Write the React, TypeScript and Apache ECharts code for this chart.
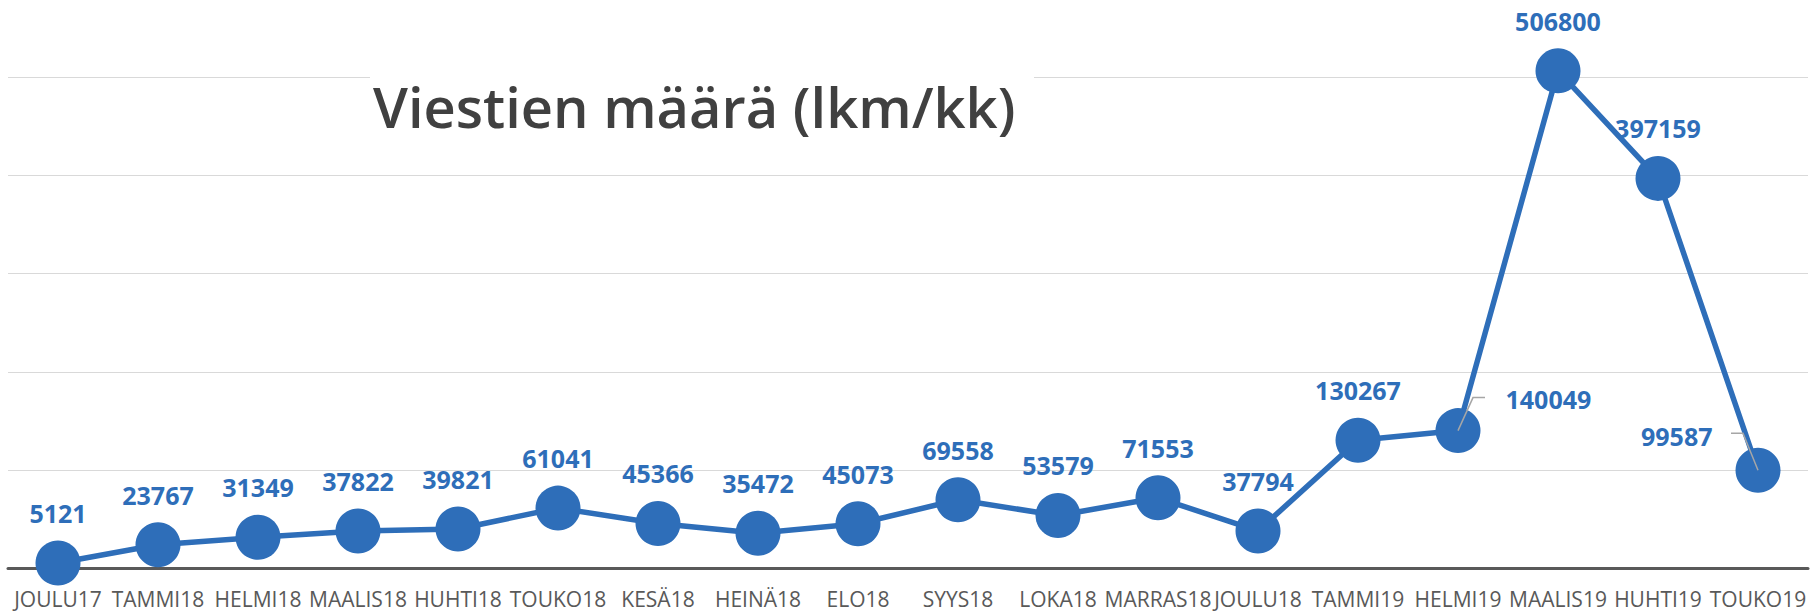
import React, { useEffect, useRef } from "react";
import * as echarts from "echarts";

const categories = [
  "JOULU17", "TAMMI18", "HELMI18", "MAALIS18", "HUHTI18", "TOUKO18", "KESÄ18", "HEINÄ18", "ELO18",
  "SYYS18", "LOKA18", "MARRAS18", "JOULU18", "TAMMI19", "HELMI19", "MAALIS19", "HUHTI19", "TOUKO19",
];
const messages = [
  5121, 23767, 31349, 37822, 39821, 61041, 45366, 35472, 45073,
  69558, 53579, 71553, 37794, 130267, 140049, 506800, 397159, 99587,
];
const titleText = "Viestien määrä (lkm/kk)";

const BLUE = "#2E6EB9";
const LEADER = "#A6A6A6";

export default function App() {
  const ref = useRef<HTMLDivElement>(null);
  useEffect(() => {
    if (!ref.current) return;
    const chart = echarts.init(ref.current, null, { renderer: "svg" });
    const data = messages.map((v, i) => {
      if (i === 14) {
        return { value: v, label: { position: "right", offset: [10, -32] } };
      }
      if (i === 17) {
        return { value: v, label: { position: "left", offset: [-8, -34] } };
      }
      return v;
    });
    chart.setOption({
      animation: false,
      backgroundColor: "#ffffff",
      grid: { left: 8, right: 8, top: 0, bottom: 44, containLabel: false },
      xAxis: {
        type: "category",
        data: categories,
        boundaryGap: true,
        axisTick: { show: false },
        axisLine: { show: true, lineStyle: { color: "#595959", width: 3 } },
        axisLabel: {
          interval: 0,
          color: "#595959",
          fontFamily: "Open Sans",
          fontSize: 21,
          lineHeight: 21,
          margin: 20,
        },
      },
      yAxis: {
        type: "value",
        min: 0,
        max: 579000,
        interval: 100000,
        axisLabel: { show: false },
        axisLine: { show: false },
        axisTick: { show: false },
        splitLine: { show: true, showMaxLine: false, lineStyle: { color: "#D9D9D9", width: 1 } },
      },
      graphic: [
        {
          type: "rect",
          id: "titleBg",
          z: 1,
          shape: { x: 370, y: 62, width: 664, height: 100 },
          style: { fill: "#ffffff" },
        },
        {
          type: "text",
          id: "title",
          z: 2,
          x: 373,
          y: 106,
          style: {
            text: titleText,
            fill: "#404040",
            font: "600 56px 'Open Sans'",
            textAlign: "left",
            textVerticalAlign: "middle",
          },
        },
      ],
      series: [
        {
          type: "line",
          data,
          z: 3,
          symbol: "circle",
          symbolSize: 45,
          showAllSymbol: true,
          lineStyle: { color: BLUE, width: 5.5 },
          itemStyle: { color: BLUE },
          label: {
            show: true,
            position: "top",
            distance: 15,
            color: BLUE,
            fontFamily: "Open Sans",
            fontWeight: "bold",
            fontSize: 25,
          },
        },
      ],
    });
    const p14 = chart.convertToPixel({ seriesIndex: 0 }, [14, messages[14]]) as number[];
    const p17 = chart.convertToPixel({ seriesIndex: 0 }, [17, messages[17]]) as number[];
    chart.setOption({
      graphic: [
        {
          type: "polyline",
          id: "lead14",
          z: 10,
          shape: { points: [[p14[0], p14[1]], [p14[0] + 15, p14[1] - 33], [p14[0] + 27, p14[1] - 33]] },
          style: { stroke: LEADER, lineWidth: 1.5, fill: "none" },
        },
        {
          type: "polyline",
          id: "lead17",
          z: 10,
          shape: { points: [[p17[0], p17[1]], [p17[0] - 15, p17[1] - 37], [p17[0] - 27, p17[1] - 37]] },
          style: { stroke: LEADER, lineWidth: 1.5, fill: "none" },
        },
      ],
    });
    return () => chart.dispose();
  }, []);
  return (
    <div
      ref={ref}
      style={{ position: "absolute", left: 0, top: 0, width: 1816, height: 612 }}
    />
  );
}
